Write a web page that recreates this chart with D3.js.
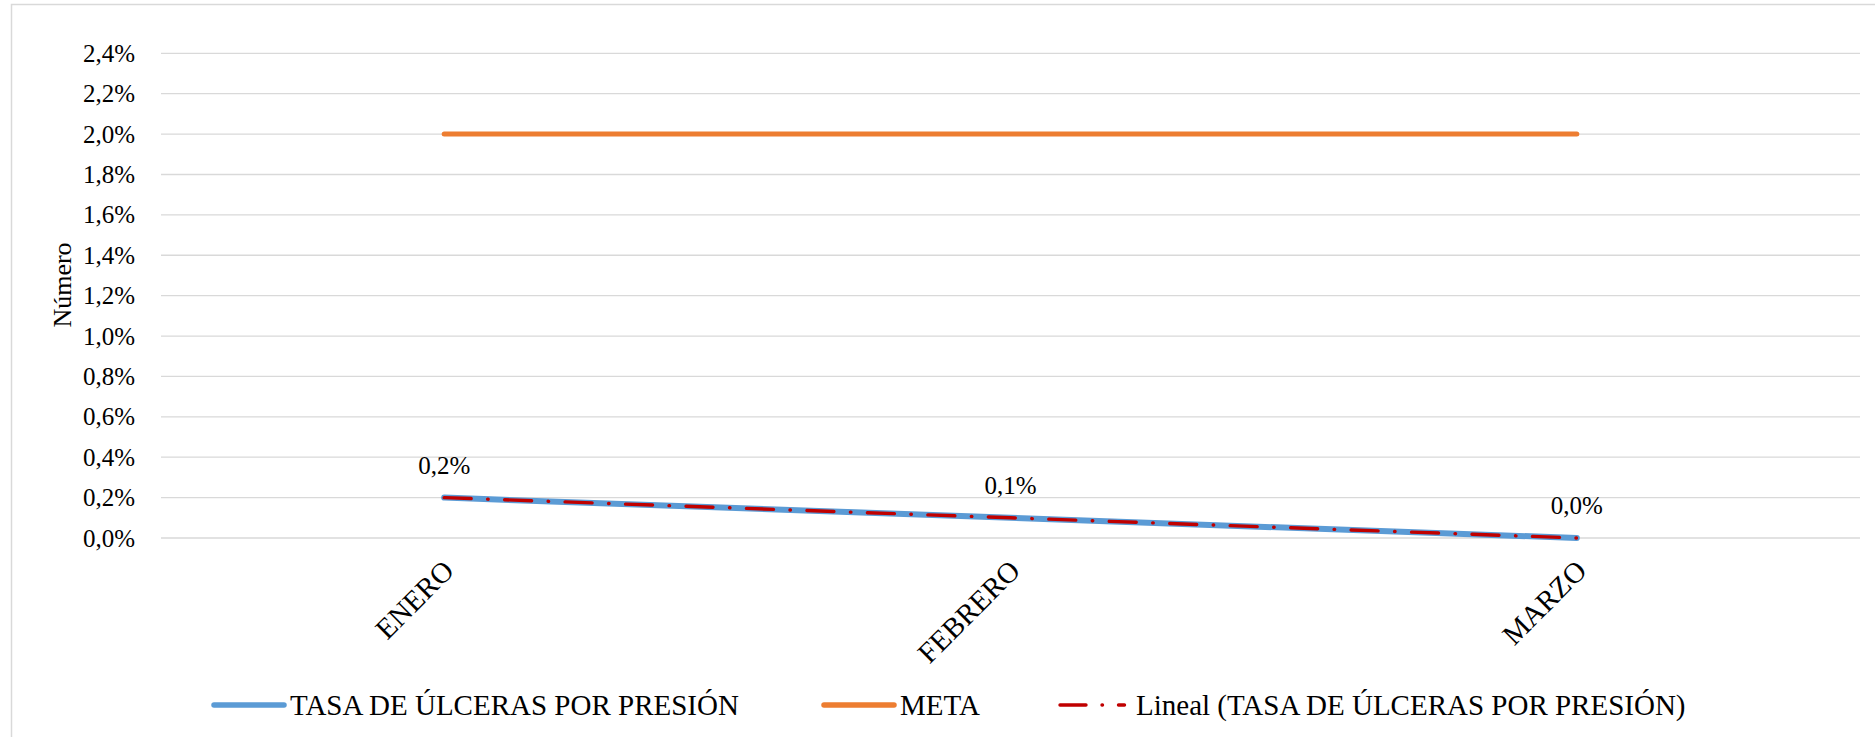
<!DOCTYPE html>
<html>
<head>
<meta charset="utf-8">
<script src="https://cdn.jsdelivr.net/npm/d3@7"></script>
<style>
  body { margin: 0; background: #fff; }
  text { font-family: "Liberation Serif", "Times New Roman", serif; fill: #000; }
</style>
</head>
<body>
<div id="chart"></div>
<script>
// data
var months = ["ENERO", "FEBRERO", "MARZO"];
var tasa = [0.002, 0.001, 0.0];
var meta = [0.02, 0.02, 0.02];
var yTicks = [0, 0.002, 0.004, 0.006, 0.008, 0.010, 0.012, 0.014, 0.016, 0.018, 0.020, 0.022, 0.024];
var legendNames = ["TASA DE ÚLCERAS POR PRESIÓN", "META", "Lineal (TASA DE ÚLCERAS POR PRESIÓN)"];

var width = 1875, height = 737;
var plotLeft = 161, plotRight = 1860, plotTop = 53.3, plotBottom = 538;

var svg = d3.select("#chart").append("svg")
    .attr("width", width).attr("height", height);

// outer frame
svg.append("rect")
    .attr("x", 11.5).attr("y", 4.5)
    .attr("width", 1880).attr("height", 760)
    .attr("fill", "none").attr("stroke", "#d9d9d9").attr("stroke-width", 1.5);

var x = d3.scalePoint().domain(months).range([plotLeft, plotRight]).padding(0.5);
var y = d3.scaleLinear().domain([0, 0.024]).range([plotBottom, plotTop]);

var fmt = function(v) { return d3.format(".1%")(v).replace(".", ","); };

// gridlines
svg.append("g").selectAll("line")
    .data(yTicks).enter().append("line")
    .attr("x1", plotLeft).attr("x2", plotRight)
    .attr("y1", d => y(d)).attr("y2", d => y(d))
    .attr("stroke", "#d9d9d9").attr("stroke-width", 1.3);

// y axis labels
var yAxis = svg.append("g")
    .attr("transform", `translate(${plotLeft},0)`)
    .call(d3.axisLeft(y).tickValues(yTicks).tickFormat(fmt).tickSize(0).tickPadding(26));
yAxis.select(".domain").remove();
yAxis.selectAll("text")
    .style("font-family", "'Liberation Serif', 'Times New Roman', serif")
    .style("font-size", "25px").attr("fill", "#000");

// y title
svg.append("text")
    .attr("transform", "translate(62,285) rotate(-90)")
    .attr("text-anchor", "middle").attr("dy", "0.35em")
    .style("font-size", "26px")
    .text("Número");

// x labels
svg.append("g").selectAll("text")
    .data(months).enter().append("text")
    .attr("transform", d => `translate(${x(d) - 3},${558}) rotate(-45)`)
    .attr("text-anchor", "end").attr("dy", "0.7em")
    .style("font-size", "29px")
    .text(d => d);

var line = d3.line().x((d, i) => x(months[i])).y(d => y(d));

// meta
svg.append("path").datum(meta)
    .attr("d", line).attr("fill", "none")
    .attr("stroke", "#ED7D31").attr("stroke-width", 5).attr("stroke-linecap", "round");

// tasa
svg.append("path").datum(tasa)
    .attr("d", line).attr("fill", "none")
    .attr("stroke", "#5B9BD5").attr("stroke-width", 6).attr("stroke-linecap", "round");

// linear trend (least squares)
var n = tasa.length;
var xm = d3.mean(d3.range(n)), ym = d3.mean(tasa);
var slope = d3.sum(d3.range(n), i => (i - xm) * (tasa[i] - ym)) / d3.sum(d3.range(n), i => (i - xm) * (i - xm));
var trend = d3.range(n).map(i => ym + slope * (i - xm));
svg.append("path").datum(trend)
    .attr("d", line).attr("fill", "none")
    .attr("stroke", "#C00000").attr("stroke-width", 3.4)
    .attr("stroke-dasharray", "27,16.5,0.5,16.5").attr("stroke-linecap", "round");

// data labels
svg.append("g").selectAll("text")
    .data(tasa).enter().append("text")
    .attr("x", (d, i) => x(months[i]))
    .attr("y", d => y(d) - 24)
    .attr("text-anchor", "middle")
    .style("font-size", "25px")
    .text(d => fmt(d));

// legend
var legendX = [214, 824, 1060];
var legendColors = ["#5B9BD5", "#ED7D31", "#C00000"];
var lg = svg.append("g").selectAll("g")
    .data(legendNames).enter().append("g")
    .attr("transform", (d, i) => `translate(${legendX[i]},705)`);
lg.append("line")
    .attr("x1", 0).attr("x2", 70).attr("y1", 0).attr("y2", 0)
    .attr("stroke", (d, i) => legendColors[i])
    .attr("stroke-width", (d, i) => i == 2 ? 3.4 : 5.5)
    .attr("stroke-linecap", "round")
    .attr("stroke-dasharray", (d, i) => i == 2 ? "26,16,0.5,16,6" : null);
lg.append("text")
    .attr("x", 76).attr("dy", "0.35em")
    .style("font-size", "29px")
    .text(d => d);
</script>
</body>
</html>
